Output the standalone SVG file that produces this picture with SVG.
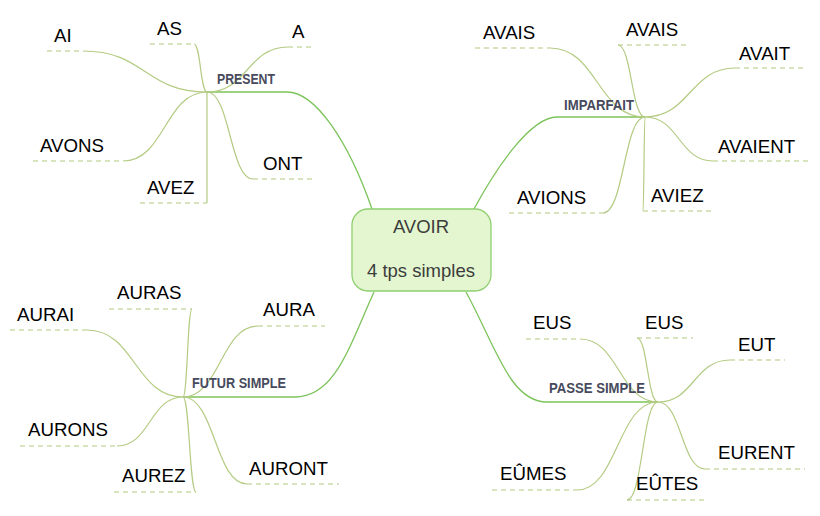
<svg xmlns="http://www.w3.org/2000/svg" width="820" height="516" viewBox="0 0 820 516">
<style>
.main{fill:none;stroke:#7cc35a;stroke-width:1.3}
.leaf{fill:none;stroke:#b3cb82;stroke-width:1.2}
.dash{fill:none;stroke:#b0c97e;stroke-width:1.2;stroke-dasharray:5 4}
.t{font-family:"Liberation Sans",Arial,sans-serif;font-size:18.7px;fill:#000}
.lbl{font-family:"Liberation Sans",Arial,sans-serif;font-size:14.5px;font-weight:bold;fill:#474a5c}
.ct{font-family:"Liberation Sans",Arial,sans-serif;font-size:18.5px;fill:#3c3c3c;text-anchor:middle}
</style>
<rect width="820" height="516" fill="#ffffff"/>
<g id="connectors">
<path class="main" d="M207 92 H287 C315 92 348 140 372 209"/>
<path class="main" d="M645 117 H557 C530 117 495 170 474 209"/>
<path class="main" d="M183 397 H295 C335 397 349 347 374 292"/>
<path class="main" d="M658 402 H547 C510 402 496 347 466 292"/>
<path class="leaf" d="M83 51 C145 51 145 92 207 92"/>
<path class="leaf" d="M194 44 C200.5 44 200.5 92 207 92"/>
<path class="leaf" d="M207 92 C247.5 92 247.5 47 288 47"/>
<path class="leaf" d="M123 161 C165 161 165 92 207 92"/>
<path class="leaf" d="M207 92 V203"/>
<path class="leaf" d="M207 92 C230 92 230 179 253 179"/>
<path class="leaf" d="M550 48 C597.5 48 597.5 117 645 117"/>
<path class="leaf" d="M618 45 C631.5 45 631.5 117 645 117"/>
<path class="leaf" d="M645 117 C690 117 690 68 735 68"/>
<path class="leaf" d="M645 117 C679 117 679 161 713 161"/>
<path class="leaf" d="M603 213 C624 213 624 117 645 117"/>
<path class="leaf" d="M645 117 C644 117 644 211 643 211"/>
<path class="leaf" d="M192 309 C187.5 309 187.5 397 183 397"/>
<path class="leaf" d="M87 330 C135 330 135 397 183 397"/>
<path class="leaf" d="M183 397 C220.5 397 220.5 326 258 326"/>
<path class="leaf" d="M117 446 C150 446 150 397 183 397"/>
<path class="leaf" d="M183 397 C189.5 397 189.5 492 196 492"/>
<path class="leaf" d="M183 397 C215 397 215 484 247 484"/>
<path class="leaf" d="M580 339 C619 339 619 402 658 402"/>
<path class="leaf" d="M637 338 C647.5 338 647.5 402 658 402"/>
<path class="leaf" d="M658 402 C694 402 694 360 730 360"/>
<path class="leaf" d="M658 402 C681.5 402 681.5 469 705 469"/>
<path class="leaf" d="M577 490 C617.5 490 617.5 402 658 402"/>
<path class="leaf" d="M658 402 C642.5 402 642.5 500 627 500"/>
</g>
<g id="center">
<rect x="352" y="209" width="139" height="82" rx="16" fill="#e3f6cf" stroke="#8fcf6f" stroke-width="1.3"/>
<text class="ct" x="421" y="233">AVOIR</text>
<text class="ct" x="421" y="277">4 tps simples</text>
</g>
<g id="present">
<text class="lbl" x="217" y="84" textLength="58" lengthAdjust="spacingAndGlyphs">PRESENT</text>
</g>
<g id="imparfait">
<text class="lbl" x="564" y="109.5" textLength="70" lengthAdjust="spacingAndGlyphs">IMPARFAIT</text>
</g>
<g id="futur">
<text class="lbl" x="192" y="388" textLength="94" lengthAdjust="spacingAndGlyphs">FUTUR SIMPLE</text>
</g>
<g id="passe">
<text class="lbl" x="549" y="392.5" textLength="96" lengthAdjust="spacingAndGlyphs">PASSE SIMPLE</text>
</g>
<g id="p-ai"><path class="dash" d="M47 51 H83"/><text class="t" x="54" y="42">AI</text></g>
<g id="p-as"><path class="dash" d="M150 44 H194"/><text class="t" x="157" y="35">AS</text></g>
<g id="p-a"><path class="dash" d="M288 47 H312"/><text class="t" x="292" y="38">A</text></g>
<g id="p-avons"><path class="dash" d="M33 161 H123"/><text class="t" x="40" y="152">AVONS</text></g>
<g id="p-avez"><path class="dash" d="M140 203 H207"/><text class="t" x="147" y="194">AVEZ</text></g>
<g id="p-ont"><path class="dash" d="M253 179 H313"/><text class="t" x="263" y="170">ONT</text></g>
<g id="i-avais1"><path class="dash" d="M475 48 H550"/><text class="t" x="483" y="39">AVAIS</text></g>
<g id="i-avais2"><path class="dash" d="M618 45 H690"/><text class="t" x="626" y="36">AVAIS</text></g>
<g id="i-avait"><path class="dash" d="M735 68 H803"/><text class="t" x="739" y="60">AVAIT</text></g>
<g id="i-avaient"><path class="dash" d="M713 161 H811"/><text class="t" x="718" y="153">AVAIENT</text></g>
<g id="i-avions"><path class="dash" d="M509 213 H603"/><text class="t" x="517" y="204">AVIONS</text></g>
<g id="i-aviez"><path class="dash" d="M643 211 H715"/><text class="t" x="651" y="202">AVIEZ</text></g>
<g id="f-auras"><path class="dash" d="M109 309 H192"/><text class="t" x="117" y="299">AURAS</text></g>
<g id="f-aurai"><path class="dash" d="M10 330 H87"/><text class="t" x="17" y="321">AURAI</text></g>
<g id="f-aura"><path class="dash" d="M258 326 H325"/><text class="t" x="263" y="316">AURA</text></g>
<g id="f-aurons"><path class="dash" d="M20 446 H117"/><text class="t" x="28" y="436">AURONS</text></g>
<g id="f-aurez"><path class="dash" d="M114 492 H196"/><text class="t" x="122" y="482">AUREZ</text></g>
<g id="f-auront"><path class="dash" d="M247 484 H339"/><text class="t" x="249" y="475">AURONT</text></g>
<g id="s-eus1"><path class="dash" d="M526 339 H580"/><text class="t" x="533" y="329">EUS</text></g>
<g id="s-eus2"><path class="dash" d="M637 338 H693"/><text class="t" x="645" y="329">EUS</text></g>
<g id="s-eut"><path class="dash" d="M730 360 H785"/><text class="t" x="738" y="351">EUT</text></g>
<g id="s-eurent"><path class="dash" d="M705 469 H805"/><text class="t" x="718" y="459">EURENT</text></g>
<g id="s-eumes"><path class="dash" d="M492 490 H577"/><text class="t" x="500" y="480">EÛMES</text></g>
<g id="s-eutes"><path class="dash" d="M627 500 H707"/><text class="t" x="636" y="490">EÛTES</text></g>
</svg>
